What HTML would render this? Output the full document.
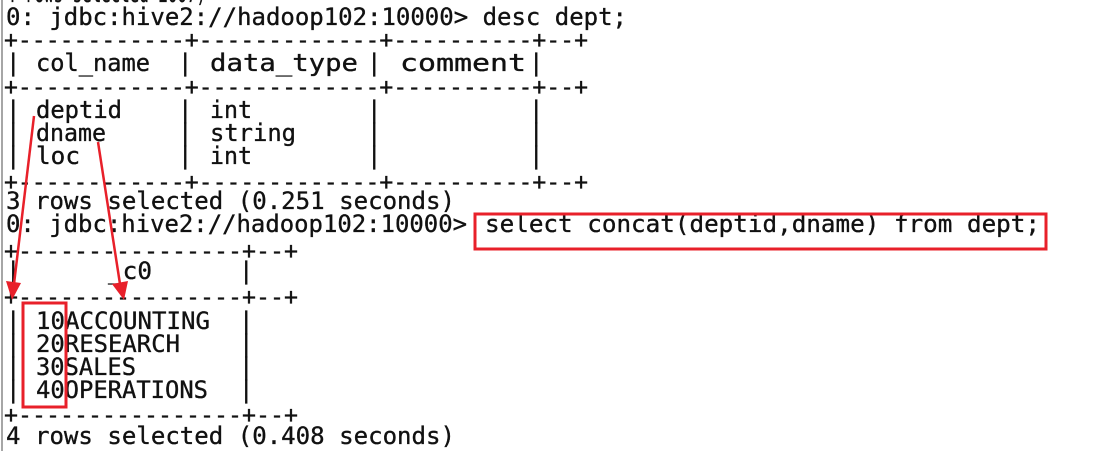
<!DOCTYPE html>
<html><head><meta charset="utf-8"><style>
html,body{margin:0;padding:0;background:#fff;width:1104px;height:451px;overflow:hidden}
svg{display:block}
text{font-family:"DejaVu Sans Mono","Liberation Mono",monospace;font-size:24px;fill:#111;stroke:#111;stroke-width:0.35}
</style></head><body>
<svg width="1104" height="451" viewBox="0 0 1104 451" xmlns="http://www.w3.org/2000/svg">
<line x1="2" y1="0" x2="2" y2="451" stroke="#888" stroke-width="1.5"/>
<text x="6" y="2" textLength="200" lengthAdjust="spacingAndGlyphs">4 rows selected 2007)</text>
<text x="6" y="25" textLength="621" lengthAdjust="spacingAndGlyphs">0: jdbc:hive2://hadoop102:10000&gt; desc dept;</text>
<text x="4" y="48" textLength="584" lengthAdjust="spacingAndGlyphs">+------------+-------------+----------+--+</text>
<text x="4" y="95" textLength="584" lengthAdjust="spacingAndGlyphs">+------------+-------------+----------+--+</text>
<text x="4" y="190" textLength="584" lengthAdjust="spacingAndGlyphs">+------------+-------------+----------+--+</text>

<text x="6" y="71">|</text><text x="178" y="71">|</text><text x="367" y="71">|</text><text x="529" y="71">|</text>
<text x="36" y="71" textLength="114" lengthAdjust="spacingAndGlyphs">col_name</text>
<text x="210" y="71" textLength="148" lengthAdjust="spacingAndGlyphs">data_type</text>
<text x="400" y="71" textLength="126" lengthAdjust="spacingAndGlyphs">comment</text>

<text x="6" y="118">|</text><text x="178" y="118">|</text><text x="367" y="118">|</text><text x="529" y="118">|</text>
<text x="36" y="118" textLength="86" lengthAdjust="spacingAndGlyphs">deptid</text>
<text x="210" y="118" textLength="42" lengthAdjust="spacingAndGlyphs">int</text>
<text x="6" y="141">|</text><text x="178" y="141">|</text><text x="367" y="141">|</text><text x="529" y="141">|</text>
<text x="36" y="141" textLength="70" lengthAdjust="spacingAndGlyphs">dname</text>
<text x="210" y="141" textLength="86" lengthAdjust="spacingAndGlyphs">string</text>
<text x="6" y="164">|</text><text x="178" y="164">|</text><text x="367" y="164">|</text><text x="529" y="164">|</text>
<text x="36" y="164" textLength="44" lengthAdjust="spacingAndGlyphs">loc</text>
<text x="210" y="164" textLength="42" lengthAdjust="spacingAndGlyphs">int</text>

<text x="6" y="209" textLength="449" lengthAdjust="spacingAndGlyphs">3 rows selected (0.251 seconds)</text>
<text x="6" y="232" textLength="461" lengthAdjust="spacingAndGlyphs">0: jdbc:hive2://hadoop102:10000&gt;</text>
<text x="485" y="232" textLength="555" lengthAdjust="spacingAndGlyphs">select concat(deptid,dname) from dept;</text>
<text x="4" y="259" textLength="294" lengthAdjust="spacingAndGlyphs">+----------------+--+</text>
<text x="6" y="279">|</text><text x="239" y="279">|</text>
<text x="108" y="279" textLength="44" lengthAdjust="spacingAndGlyphs">_c0</text>
<text x="4" y="305" textLength="294" lengthAdjust="spacingAndGlyphs">+----------------+--+</text>
<text x="6" y="329">|</text><text x="239" y="329">|</text>
<text x="36" y="329" textLength="174" lengthAdjust="spacingAndGlyphs">10ACCOUNTING</text>
<text x="6" y="352">|</text><text x="239" y="352">|</text>
<text x="36" y="352" textLength="144" lengthAdjust="spacingAndGlyphs">20RESEARCH</text>
<text x="6" y="375">|</text><text x="239" y="375">|</text>
<text x="36" y="375" textLength="100" lengthAdjust="spacingAndGlyphs">30SALES</text>
<text x="6" y="398">|</text><text x="239" y="398">|</text>
<text x="36" y="398" textLength="172" lengthAdjust="spacingAndGlyphs">40OPERATIONS</text>
<text x="4" y="423" textLength="294" lengthAdjust="spacingAndGlyphs">+----------------+--+</text>
<text x="6" y="444" textLength="449" lengthAdjust="spacingAndGlyphs">4 rows selected (0.408 seconds)</text>

<rect x="475" y="214" width="571" height="35" fill="none" stroke="#e8202a" stroke-width="3"/>
<rect x="23" y="303" width="43" height="104" fill="none" stroke="#e8202a" stroke-width="3"/>
<line x1="34" y1="116" x2="14" y2="284" stroke="#e8202a" stroke-width="2.5"/>
<polygon points="6,281 21,283 12,300" fill="#e8202a"/>
<line x1="98" y1="142" x2="120" y2="284" stroke="#e8202a" stroke-width="2.5"/>
<polygon points="112,284 128,281 124,300" fill="#e8202a"/>
</svg>
</body></html>
